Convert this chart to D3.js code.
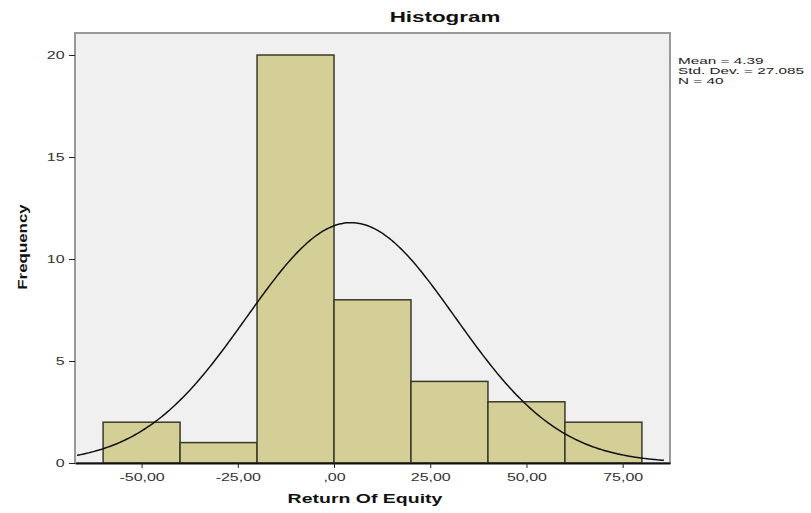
<!DOCTYPE html>
<html><head><meta charset="utf-8">
<script src="https://cdnjs.cloudflare.com/ajax/libs/d3/7.8.5/d3.min.js"></script>
<style>body{margin:0;background:#fff;}svg{display:block;font-family:Arial,"Liberation Sans",sans-serif;}</style>
</head><body>
<svg id="c" width="811" height="513"></svg>
<script>
const binStarts = [-60, -40, -20, 0, 20, 40, 60];
const binWidth = 20;
const frequencies = [2, 1, 20, 8, 4, 3, 2];
const xTicks = [-50, -25, 0, 25, 50, 75];
const xTickLabels = ["-50,00", "-25,00", ",00", "25,00", "50,00", "75,00"];
const yTicks = [0, 5, 10, 15, 20];
const stats = { mean: 4.39, sd: 27.085, n: 40 };
const legendLines = ["Mean = 4.39", "Std. Dev. = 27.085", "N = 40"];

const svg = d3.select("#c");
const L = 75, R = 670, T = 33, B = 463;
const SX = 1.6;
const x = d3.scaleLinear().domain([-67.3, 87.3]).range([L, R]);
const y = d3.scaleLinear().domain([0, 20]).range([B, 55]);

svg.append("rect").attr("x", L).attr("y", T).attr("width", R - L).attr("height", B - T)
  .attr("fill", "#f0f0f0").attr("stroke", "#999").attr("stroke-width", 2);

svg.append("g").selectAll("rect").data(binStarts).join("rect")
  .attr("x", d => x(d)).attr("width", d => x(d + binWidth) - x(d))
  .attr("y", (d, i) => y(frequencies[i])).attr("height", (d, i) => y(0) - y(frequencies[i]))
  .attr("fill", "#d4cf97").attr("stroke", "#3a3a2a").attr("stroke-width", 1.5);

// normal curve
const pts = d3.range(x.invert(L + 2), x.invert(R - 5), 0.5).map(v => {
  const dens = Math.exp(-0.5 * Math.pow((v - stats.mean) / stats.sd, 2)) / (stats.sd * Math.sqrt(2 * Math.PI));
  return [v, dens * stats.n * binWidth];
});
svg.append("path").datum(pts)
  .attr("d", d3.line().x(d => x(d[0])).y(d => y(d[1])).curve(d3.curveBasis))
  .attr("fill", "none").attr("stroke", "#111").attr("stroke-width", 1.5);

// axes
const xAxis = svg.append("g").attr("transform", `translate(0,${B})`)
  .call(d3.axisBottom(x).tickValues(xTicks).tickFormat((d, i) => xTickLabels[i]).tickSize(5).tickSizeOuter(0));
xAxis.select(".domain").attr("stroke", "#111").attr("stroke-width", 2);
xAxis.selectAll("text").attr("font-size", 10).attr("fill", "#333").attr("y", 10).attr("dy", "0.8em")
  .attr("transform", `scale(${SX},1)`);
xAxis.selectAll("line").attr("stroke", "#222");

const yAxis = svg.append("g").attr("transform", `translate(${L},0)`)
  .call(d3.axisLeft(y).tickValues(yTicks).tickSize(6).tickSizeOuter(0));
yAxis.select(".domain").attr("stroke", "#999").attr("stroke-width", 2).attr("d", `M0,${T}V${B}`);
yAxis.selectAll("text").attr("font-size", 10).attr("fill", "#333").attr("x", -6.5)
  .attr("transform", `scale(${SX},1)`);
yAxis.selectAll("line").attr("stroke", "#222");

function stretched(px, py, txt, size, sx, rot) {
  svg.append("text")
    .attr("transform", `translate(${px},${py})${rot ? " rotate(-90)" : ""} scale(${sx},1)`)
    .attr("text-anchor", "middle").attr("font-size", size).attr("font-weight", "bold")
    .attr("fill", "#111").text(txt);
}
stretched(445, 22, "Histogram", 14, SX, false);
stretched(365, 503, "Return Of Equity", 13, 1.5, false);
stretched(27, 247, "Frequency", 13, 1.3, true);

svg.append("g").selectAll("text").data(legendLines).join("text")
  .attr("transform", (d, i) => `translate(678,${64 + i * 10}) scale(1.7,1)`)
  .attr("font-size", 9).attr("fill", "#222").text(d => d);
</script>
</body></html>
